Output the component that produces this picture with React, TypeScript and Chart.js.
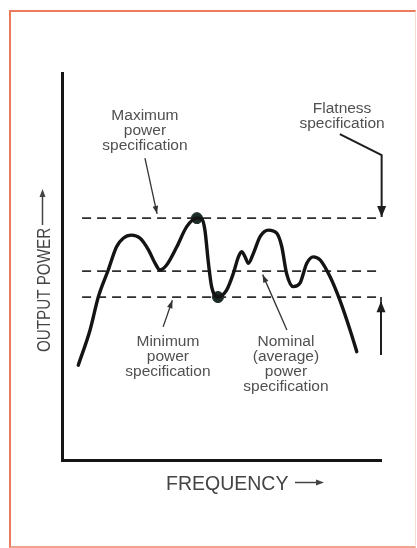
import React, { useEffect, useRef } from "react";
import { Chart, registerables } from "chart.js";

Chart.register(...registerables);

// ---- data (frequency in % of axis span, output power in % of axis span) ----
const frequency = [
  5.1, 8.8, 11.4, 14.5, 17.1, 19.2, 21.8, 24.5, 27.1, 29.2, 30.7, 32.8, 36.0, 39.1,
  42.3, 43.8, 44.8, 45.9, 46.9, 48.9, 51.6, 53.7, 55.3, 56.3, 57.4, 58.4, 60.0, 62.1,
  64.7, 67.3, 68.9, 70.4, 72.5, 74.6, 76.7, 78.8, 80.9, 84.0, 87.1, 90.3, 92.4,
];
const outputPower = [
  24.5, 33.6, 42.2, 49.1, 55.1, 57.3, 58.1, 57.3, 54.3, 50.8, 49.1, 50.4, 55.1, 60.3,
  62.5, 62.3, 59.4, 50.9, 44.8, 42.1, 43.9, 48.2, 52.5, 53.8, 52.5, 50.8, 53.4, 57.7,
  59.4, 58.6, 55.1, 48.2, 44.8, 45.7, 50.8, 52.5, 51.7, 47.4, 41.3, 33.6, 28.0,
];
const specRange = [6.3, 100];
const maximumSpec = 62.5;
const nominalSpec = 48.8;
const minimumSpec = 42.1;
const extremaFrequency = [42.3, 48.9];
const extremaPower = [62.5, 42.1];

const yAxisLabel = "OUTPUT POWER";
const xAxisLabel = "FREQUENCY";
const maximumLabel = ["Maximum", "power", "specification"];
const flatnessLabel = ["Flatness", "specification"];
const minimumLabel = ["Minimum", "power", "specification"];
const nominalLabel = ["Nominal", "(average)", "power", "specification"];

const FONT = '"Liberation Sans", Arial, Helvetica, sans-serif';

type Note = {
  lines: string[];
  x: number; // data x of text centre
  y: number; // data y of first baseline
  arrow: number[][]; // polyline in data coords, last point is the tip
  heavy?: boolean;
};

const notes: Note[] = [
  { lines: maximumLabel, x: 26.0, y: 87.9, arrow: [[26.0, 78.0], [29.8, 63.6]] },
  { lines: flatnessLabel, x: 87.8, y: 89.7, arrow: [[87.1, 84.2], [100.2, 78.8], [100.2, 62.8]], heavy: true },
  { lines: minimumLabel, x: 33.2, y: 29.5, arrow: [[31.7, 34.4], [34.6, 41.3]] },
  { lines: nominalLabel, x: 70.2, y: 29.5, arrow: [[70.5, 33.6], [62.9, 47.9]] },
  { lines: [], x: 0, y: 0, arrow: [[100.0, 27.1], [100.0, 41.0]], heavy: true },
];

function arrowHead(ctx: CanvasRenderingContext2D, fx: number, fy: number, tx: number, ty: number, len: number, half: number) {
  const a = Math.atan2(ty - fy, tx - fx);
  ctx.beginPath();
  ctx.moveTo(tx, ty);
  ctx.lineTo(tx - len * Math.cos(a) + half * Math.sin(a), ty - len * Math.sin(a) - half * Math.cos(a));
  ctx.lineTo(tx - len * Math.cos(a) - half * Math.sin(a), ty - len * Math.sin(a) + half * Math.cos(a));
  ctx.closePath();
  ctx.fill();
}

const annotationPlugin = {
  id: "annotations",
  afterDraw(chart: any) {
    const ctx: CanvasRenderingContext2D = chart.ctx;
    const xs = chart.scales.x;
    const ys = chart.scales.y;
    const area = chart.chartArea;
    ctx.save();

    // small corner ticks at the right ends of the limit lines
    const rx = xs.getPixelForValue(specRange[1]);
    ctx.strokeStyle = "#2e2e2e";
    ctx.lineWidth = 1.8;
    ctx.beginPath();
    ctx.moveTo(rx, ys.getPixelForValue(minimumSpec));
    ctx.lineTo(rx, ys.getPixelForValue(minimumSpec) + 4);
    ctx.stroke();

    // notes
    for (const n of notes) {
      ctx.fillStyle = "#505050";
      ctx.font = `15.5px ${FONT}`;
      ctx.textAlign = "center";
      ctx.textBaseline = "alphabetic";
      const cx = xs.getPixelForValue(n.x);
      const cy = ys.getPixelForValue(n.y);
      n.lines.forEach((t, i) => ctx.fillText(t, cx, cy + i * 15));

      const pts = n.arrow.map(([a, b]) => [xs.getPixelForValue(a), ys.getPixelForValue(b)]);
      ctx.strokeStyle = n.heavy ? "#1e1e1e" : "#333";
      ctx.fillStyle = ctx.strokeStyle;
      ctx.lineWidth = n.heavy ? 2 : 1.3;
      ctx.beginPath();
      pts.forEach(([px, py], i) => (i ? ctx.lineTo(px, py) : ctx.moveTo(px, py)));
      ctx.stroke();
      const [fx, fy] = pts[pts.length - 2];
      const [tx, ty] = pts[pts.length - 1];
      if (n.heavy) arrowHead(ctx, fx, fy, tx, ty, 11, 4.5);
      else arrowHead(ctx, fx, fy, tx, ty, 8, 2.8);
    }

    // y-axis title (rotated)
    ctx.fillStyle = "#444";
    ctx.save();
    ctx.translate(area.left - 12.5, area.bottom - 108);
    ctx.rotate(-Math.PI / 2);
    ctx.scale(0.8, 1);
    ctx.font = `19px ${FONT}`;
    ctx.textAlign = "left";
    ctx.textBaseline = "alphabetic";
    ctx.fillText(yAxisLabel, 0, 0);
    ctx.restore();
    const yax = area.left - 19.5;
    ctx.strokeStyle = "#444";
    ctx.fillStyle = "#444";
    ctx.lineWidth = 1.5;
    ctx.beginPath();
    ctx.moveTo(yax, area.bottom - 235);
    ctx.lineTo(yax, area.bottom - 268);
    ctx.stroke();
    arrowHead(ctx, yax, area.bottom - 235, yax, area.bottom - 271, 8, 3);

    // x-axis title
    ctx.font = `19.5px ${FONT}`;
    ctx.textAlign = "left";
    ctx.fillText(xAxisLabel, area.left + 104, area.bottom + 30);
    const xay = area.bottom + 22.5;
    ctx.beginPath();
    ctx.moveTo(area.left + 233, xay);
    ctx.lineTo(area.left + 258, xay);
    ctx.stroke();
    arrowHead(ctx, area.left + 233, xay, area.left + 262, xay, 8, 3);

    ctx.restore();
  },
};

export default function App() {
  const ref = useRef<HTMLCanvasElement | null>(null);

  useEffect(() => {
    if (!ref.current) return;
    const specLine = (v: number) => ({
      type: "line" as const,
      data: specRange.map((x) => ({ x, y: v })),
      borderColor: "#2e2e2e",
      borderWidth: 1.8,
      borderDash: [9, 6],
      pointRadius: 0,
      fill: false,
    });
    const chart = new Chart(ref.current, {
      type: "line",
      data: {
        datasets: [
          {
            data: frequency.map((x, i) => ({ x, y: outputPower[i] })),
            borderColor: "#141414",
            borderWidth: 3.4,
            pointRadius: 0,
            cubicInterpolationMode: "monotone",
            fill: false,
            borderCapStyle: "round",
            borderJoinStyle: "round",
          },
          specLine(maximumSpec),
          specLine(nominalSpec),
          specLine(minimumSpec),
          {
            type: "scatter",
            data: extremaFrequency.map((x, i) => ({ x, y: extremaPower[i] })),
            backgroundColor: "#1c2b27",
            borderColor: "#1c2b27",
            pointRadius: 5.5,
          },
        ] as any,
      },
      options: {
        animation: false,
        responsive: false,
        devicePixelRatio: 1,
        layout: { padding: { left: 62, top: 73, right: 36, bottom: 88 } },
        plugins: { legend: { display: false }, tooltip: { enabled: false } },
        elements: { line: { clip: false } as any },
        scales: {
          x: {
            type: "linear",
            min: 0,
            max: 100,
            ticks: { display: false },
            grid: { display: false, drawTicks: false },
            border: { display: true, color: "#151515", width: 3 },
          },
          y: {
            type: "linear",
            min: 0,
            max: 100,
            ticks: { display: false },
            grid: { display: false, drawTicks: false },
            border: { display: true, color: "#151515", width: 3 },
          },
        },
      },
      plugins: [annotationPlugin],
    });
    return () => chart.destroy();
  }, []);

  return (
    <div style={{ position: "absolute", left: 0, top: 0, width: 417, height: 548, background: "#fff" }}>
      <canvas ref={ref} width={417} height={548} style={{ position: "absolute", left: 0, top: 0 }} />
      <div
        style={{
          position: "absolute",
          left: 9,
          top: 10,
          width: 404,
          height: 534,
          borderTop: "2px solid #ec7a5d",
          borderLeft: "2px solid #ec7a5d",
          borderBottom: "2px solid #f0a38e",
          borderRight: "1px solid #f6dcd3",
          pointerEvents: "none",
        }}
      />
    </div>
  );
}
